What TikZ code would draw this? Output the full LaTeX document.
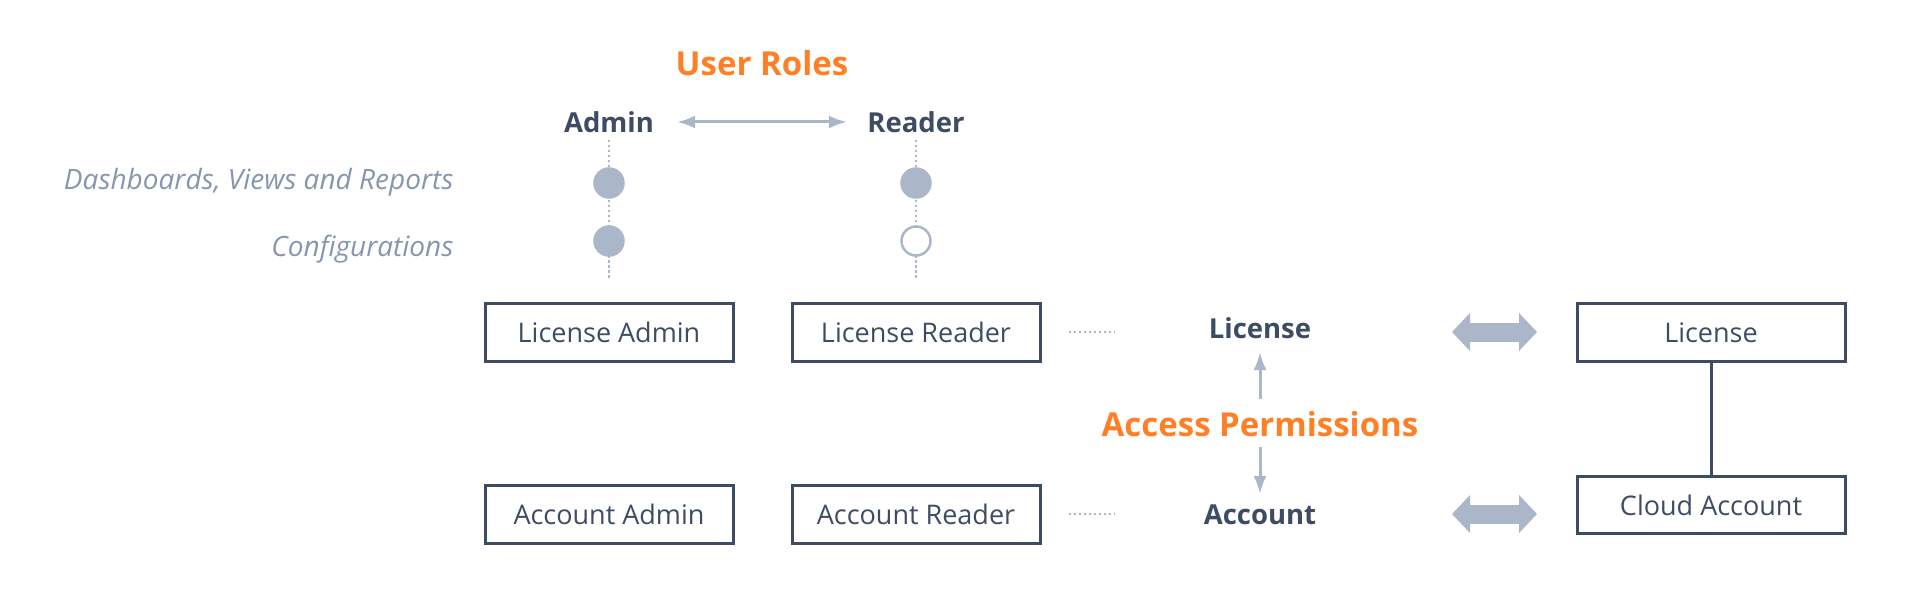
\documentclass[tikz,border=0pt]{standalone}
\usepackage{fontspec}
\setmainfont{Open Sans}
\usepackage{xcolor}
\usepackage{tikz}
\usetikzlibrary{arrows.meta,calc}
\definecolor{cNavy}{HTML}{3E4C63}
\definecolor{cGray}{HTML}{ABB6C8}
\definecolor{cOrange}{HTML}{FF7F27}
\definecolor{cLabel}{HTML}{8696AF}
\tikzstyle{tsTitle} = [
    text=cOrange,
    font=\bfseries\fontsize{33}{38}\selectfont
]
\tikzstyle{tsRole} = [
    text=cNavy,
    font=\bfseries\fontsize{27.5}{32}\selectfont
]
\tikzstyle{tsFeature} = [
    text=cLabel,
    anchor=east,
    font=\itshape\fontsize{28}{32}\selectfont
]
\tikzstyle{tsRectangle} = [
    rectangle,
    draw=cNavy,
    text=cNavy,
    font=\fontsize{27}{32}\selectfont,
    line width=3pt,
    inner sep=0pt,
    minimum height=58pt]
\tikzstyle{tsDot} = [
    circle,
    draw=cGray,
    fill=cGray,
    line width=2.5pt,
    inner sep=0pt,
    minimum size=29pt]
\tikzstyle{tsDots} = [
    cGray,
    line width=2.5pt,
    dash pattern=on 2.5pt off 2.5pt]
\tikzstyle{tsThin} = [
    cGray,
    line width=3pt]
\tikzstyle{tsFat} = [
    cGray,
    line width=19pt,
    {Triangle[length=18pt,width=37pt]}-{Triangle[length=18pt,width=37pt]}]

\begin{document}
\begin{tikzpicture}[x=1pt, y=-1pt]

        \useasboundingbox (0,0) rectangle (1906,596);

        % user roles
        \node[tsTitle] (roles) at (762,63) {User Roles};
        \node[tsRole] (admin) at (609,122) {Admin};
        \node[tsRole] (reader) at (916,122) {Reader};

        \node[tsFeature] (views) at (457,182) {Dashboards, Views and Reports};
        \node[tsFeature] (config) at (457,249) {Configurations};

        % boxes
        \node[tsRectangle, minimum width=248pt] (licadmin) at (609,332) {License Admin};
        \node[tsRectangle, minimum width=248pt] (licreader) at (916,332) {License Reader};
        \node[tsRectangle, minimum width=248pt] (accadmin) at (609,514) {Account Admin};
        \node[tsRectangle, minimum width=248pt] (accreader) at (916,514) {Account Reader};

        \node[tsRectangle, minimum width=268pt] (licbox) at (1711,332.5) {License};
        \node[tsRectangle, minimum width=268pt, minimum height=57pt] (cloudbox) at (1711,505) {Cloud Account};

        % access permissions
        \node[tsRole] (license) at (1260,328) {License};
        \node[tsRole] (account) at (1260,515) {Account};
        \node[tsTitle] (perms) at (1260,424) {Access Permissions};

        \draw[tsDots, shorten <=18pt, shorten >=22pt] (admin.center) -- (licadmin.north);
        \draw[tsDots, shorten <=18pt, shorten >=22pt] (reader.center) -- (licreader.north);

        \node[tsDot] (adminviews) at (609,183) {};
        \node[tsDot] (adminconfig) at (609,241) {};
        \node[tsDot] (readerviews) at (916,183) {};
        \node[tsDot, fill=white] (readerconfig) at (916,241) {};

        \draw[tsThin, {Latex[length=18pt,width=13pt]}-{Latex[length=18pt,width=13pt]},
              shorten <=68pt, shorten >=69pt] (admin.center) -- (reader.center);

        \draw[tsThin, -{Latex[length=18pt,width=13pt]},
              shorten <=25pt, shorten >=24pt] (perms.center) -- (license.center);
        \draw[tsThin, -{Latex[length=18pt,width=13pt]},
              shorten <=23pt, shorten >=21pt] (perms.center) -- (account.center);

        \draw[tsDots, shorten <=27pt] (licreader.east) -- ++(73,0);
        \draw[tsDots, shorten <=27pt] (accreader.east) -- ++(73,0);

        \coordinate (licfatl) at (1452,332);
        \coordinate (licfatr) at (1537,332);
        \coordinate (accfatl) at (1452,514);
        \coordinate (accfatr) at (1537,514);
        \draw[tsFat] (licfatl) -- (licfatr);
        \draw[tsFat] (accfatl) -- (accfatr);

        \draw[cNavy, line width=3pt] (licbox.south) -- (cloudbox.north);

\end{tikzpicture}
\end{document}
